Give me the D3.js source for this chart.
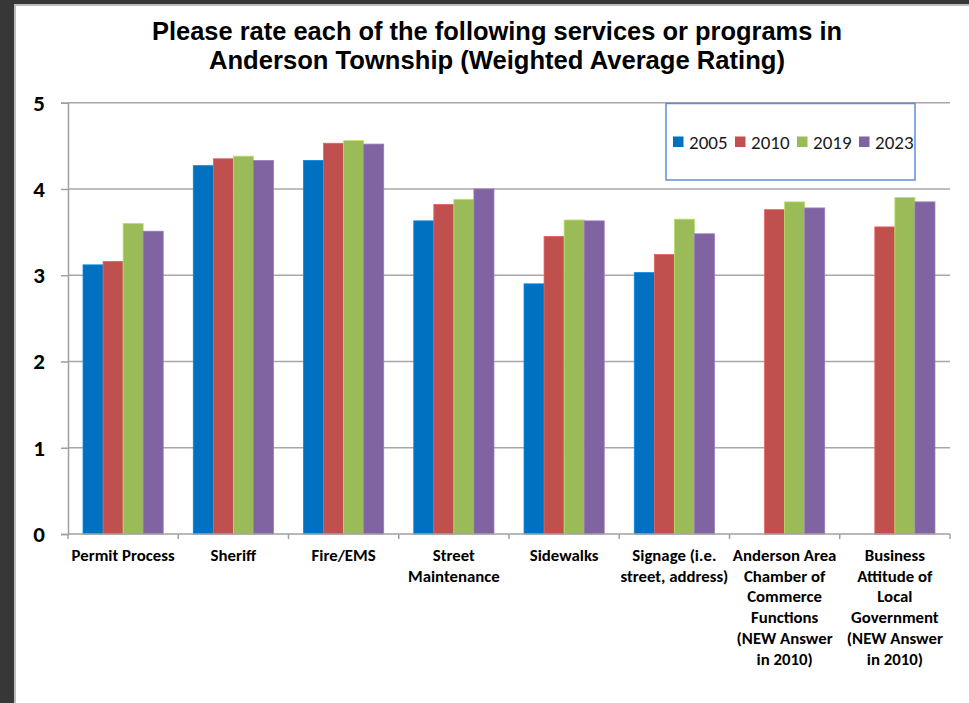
<!DOCTYPE html>
<html>
<head>
<meta charset="utf-8">
<script src="https://cdn.jsdelivr.net/npm/d3@7"></script>
<style>
  html, body { margin: 0; padding: 0; background: #373737; }
  svg { display: block; }
</style>
</head>
<body>
<svg id="chart" width="969" height="703"></svg>
<script>
// Survey categories (each entry holds its wrapped label lines)
const categories = [
  ["Permit Process"],
  ["Sheriff"],
  ["Fire/EMS"],
  ["Street", "Maintenance"],
  ["Sidewalks"],
  ["Signage (i.e.", "street, address)"],
  ["Anderson Area", "Chamber of", "Commerce", "Functions", "(NEW Answer", "in 2010)"],
  ["Business", "Attitude of", "Local", "Government", "(NEW Answer", "in 2010)"]
];
const years = ["2005", "2010", "2019", "2023"];
const values2005 = [3.12, 4.27, 4.33, 3.63, 2.90, 3.03, null, null];
const values2010 = [3.16, 4.35, 4.53, 3.82, 3.45, 3.24, 3.76, 3.56];
const values2019 = [3.60, 4.38, 4.56, 3.88, 3.64, 3.65, 3.85, 3.90];
const values2023 = [3.51, 4.33, 4.52, 4.00, 3.63, 3.48, 3.78, 3.85];
const yTicks = [0, 1, 2, 3, 4, 5];
const titleLines = [
  "Please rate each of the following services or programs in",
  "Anderson Township (Weighted Average Rating)"
];

const seriesValues = [values2005, values2010, values2019, values2023];
const colors = ["#0070C0", "#C0504D", "#9BBB59", "#8064A2"];
const labelFont = "Carlito, Calibri, Lato, 'Open Sans', sans-serif";

const svg = d3.select("#chart");

// Slide frame: dark border with a thin light inner edge
svg.append("rect").attr("x", 0).attr("y", 0).attr("width", 969).attr("height", 703).attr("fill", "#373737");
svg.append("rect").attr("x", 14).attr("y", 4).attr("width", 955).attr("height", 699).attr("fill", "#BDBDBD");
svg.append("rect").attr("x", 16).attr("y", 6).attr("width", 953).attr("height", 697).attr("fill", "#FFFFFF");

// Title
const titleY = [40, 69];
titleLines.forEach((t, i) => {
  svg.append("text")
    .attr("x", 497).attr("y", titleY[i])
    .attr("text-anchor", "middle")
    .attr("font-family", "'Liberation Sans Narrow', 'Liberation Sans', Arial, sans-serif")
    .attr("font-weight", "bold")
    .attr("font-size", 25)
    .attr("fill", "#000")
    .attr("textLength", i === 0 ? 690 : 576)
    .attr("lengthAdjust", "spacingAndGlyphs")
    .text(t);
});

// Scales
const x = d3.scaleBand()
  .domain(categories.map((c, i) => i))
  .range([68, 950])
  .paddingInner(0).paddingOuter(0);
const x1 = d3.scaleBand()
  .domain(years)
  .range([0, x.bandwidth()])
  .paddingInner(0).paddingOuter(0.75);
const y = d3.scaleLinear().domain([0, 5]).range([534, 102.7]);

// Horizontal gridlines
svg.append("g").selectAll("line")
  .data(yTicks.filter(t => t > 0))
  .join("line")
  .attr("x1", 68).attr("x2", 950)
  .attr("y1", d => y(d)).attr("y2", d => y(d))
  .attr("stroke", "#A8A8A8").attr("stroke-width", 1.5);

// Y axis
const yAxis = svg.append("g")
  .attr("transform", "translate(68,0)")
  .call(d3.axisLeft(y).tickValues(yTicks).tickFormat(d3.format("d")).tickSize(7).tickPadding(16));
yAxis.select(".domain").attr("stroke", "#A0A0A0").attr("stroke-width", 1.5);
yAxis.selectAll(".tick line").attr("stroke", "#A0A0A0").attr("stroke-width", 1.5);
yAxis.selectAll(".tick text")
  .attr("font-family", labelFont)
  .attr("font-weight", "900")
  .attr("font-size", 23)
  .attr("fill", "#000");

// Bars
const groups = svg.append("g").selectAll("g")
  .data(categories.map((c, i) => i))
  .join("g")
  .attr("transform", i => `translate(${x(i)},0)`);
groups.selectAll("rect")
  .data(i => years.map((yr, s) => ({ yr, s, v: seriesValues[s][i] })).filter(d => d.v != null))
  .join("rect")
  .attr("x", d => x1(d.yr))
  .attr("y", d => y(d.v))
  .attr("width", x1.bandwidth())
  .attr("height", d => y(0) - y(d.v))
  .attr("fill", d => colors[d.s])
  .attr("stroke", d => d3.color(colors[d.s]).brighter(0.5))
  .attr("stroke-width", 0.8);

// X axis line with category boundary ticks
svg.append("line")
  .attr("x1", 68).attr("x2", 950)
  .attr("y1", y(0)).attr("y2", y(0))
  .attr("stroke", "#A0A0A0").attr("stroke-width", 1.5);
const boundaries = categories.map((c, i) => x(i)).concat([x(categories.length - 1) + x.bandwidth()]);
svg.append("g").selectAll("line")
  .data(boundaries)
  .join("line")
  .attr("x1", d => d).attr("x2", d => d)
  .attr("y1", y(0)).attr("y2", y(0) + 5)
  .attr("stroke", "#A0A0A0").attr("stroke-width", 1.5);

// Category labels
const lbl = svg.append("g").selectAll("text")
  .data(categories.map((lines, i) => ({ lines, i })))
  .join("text")
  .attr("text-anchor", "middle")
  .attr("font-family", labelFont)
  .attr("font-weight", "bold")
  .attr("font-size", 16.8)
  .attr("fill", "#000");
lbl.selectAll("tspan")
  .data(d => d.lines.map(l => ({ l, i: d.i })))
  .join("tspan")
  .attr("x", d => x(d.i) + x.bandwidth() / 2)
  .attr("y", (d, k) => 561 + k * 20.7)
  .text(d => d.l);

// Legend
const legend = svg.append("g");
legend.append("rect")
  .attr("x", 666).attr("y", 103.5).attr("width", 249).attr("height", 76.5)
  .attr("fill", "#FFFFFF").attr("stroke", "#5F8FD0").attr("stroke-width", 1.5);
const legendX = [673, 735, 797, 859];
years.forEach((yr, s) => {
  legend.append("rect")
    .attr("x", legendX[s]).attr("y", 136.5)
    .attr("width", 10.5).attr("height", 10.5)
    .attr("fill", colors[s]);
  legend.append("text")
    .attr("x", legendX[s] + 16).attr("y", 148.5)
    .attr("font-family", labelFont)
    .attr("font-size", 19)
    .attr("fill", "#1A1A1A")
    .text(yr);
});
</script>
</body>
</html>
